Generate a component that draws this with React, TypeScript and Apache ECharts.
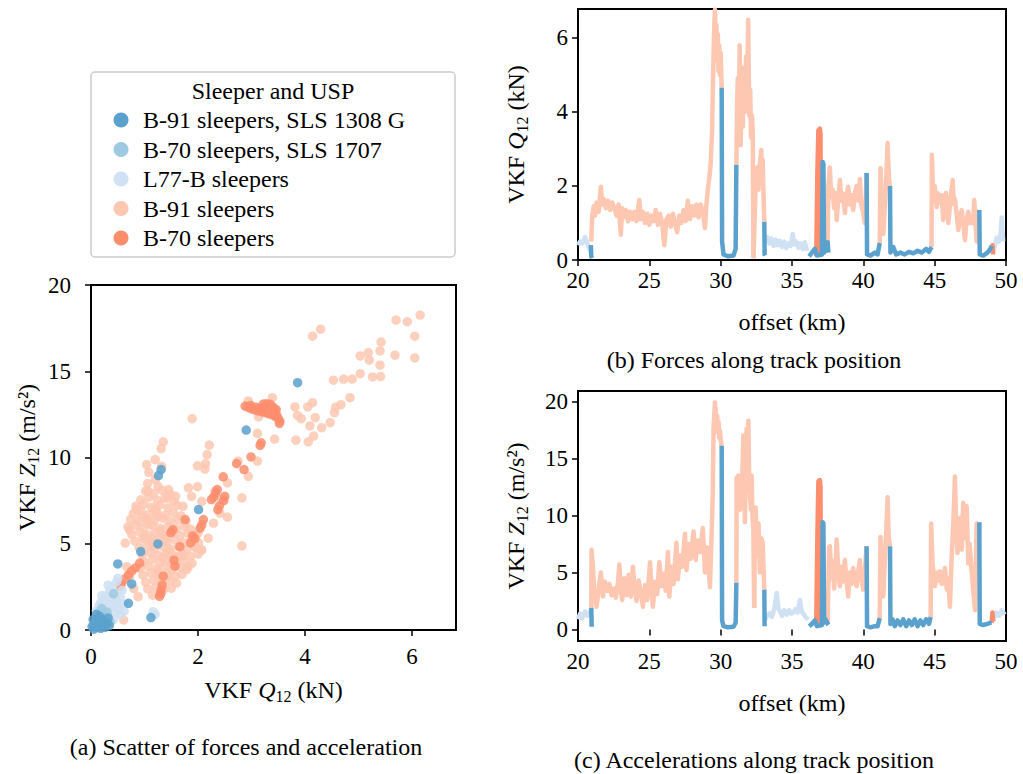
import React, { useEffect, useRef } from "react";
import * as echarts from "echarts";

type P = [number, number];

const FONT = "'Liberation Serif', 'DejaVu Serif', serif";

const C_B91_1308 = "#5aa1ce";
const C_B70_1707 = "#9ecae1";
const C_L77 = "#cfe1f2";
const C_B91 = "#fdc7b2";
const C_B70 = "#fc8d6d";

const LEGEND_TITLE = "Sleeper and USP";
const LEGEND_NAMES = [
  "B-91 sleepers, SLS 1308 G",
  "B-70 sleepers, SLS 1707",
  "L77-B sleepers",
  "B-91 sleepers",
  "B-70 sleepers",
];
const LEGEND_COLORS = [C_B91_1308, C_B70_1707, C_L77, C_B91, C_B70];

const CAPTION_A = "(a) Scatter of forces and acceleration";
const CAPTION_B = "(b) Forces along track position";
const CAPTION_C = "(c) Accelerations along track position";

const A_X_TICKS = [0, 2, 4, 6];
const A_Y_TICKS = [0, 5, 10, 15, 20];
const B_X_TICKS = [20, 25, 30, 35, 40, 45, 50];
const B_Y_TICKS = [0, 2, 4, 6];
const C_Y_TICKS = [0, 5, 10, 15, 20];

// ---------- scatter (a): [Q12 kN, Z12 m/s2] ----------
const SC_B91: P[] = [
  [6.15, 18.26], [5.7, 17.97], [5.91, 17.87], [4.29, 17.44], [4.14, 17.03], [6.05, 17.03], [5.42, 16.69],
  [5.03, 15.89], [5.18, 16.08], [5.4, 16.18], [5.2, 15.65], [5.68, 15.93], [6.05, 15.77], [5.4, 15.35],
  [5.26, 14.67], [5.41, 14.69], [5.03, 14.86], [4.88, 14.55], [4.72, 14.55], [4.53, 14.48], [4.84, 13.47],
  [4.67, 13.06], [4.57, 12.91], [4.55, 12.6], [4.47, 12.02], [4.31, 11.73], [4.16, 11.24], [4.06, 10.91],
  [4.19, 12.31], [4.09, 11.83], [4.05, 12.93], [4.14, 13.18], [3.93, 12.25], [3.86, 12.44], [3.81, 12.93],
  [3.83, 11.01], [3.39, 13.47], [3.43, 11.07], [3.13, 12.36], [3.11, 11.4], [2.94, 13.28], [2.75, 9.79],
  [3.11, 9.79], [2.94, 8.91], [2.82, 7.66], [2.82, 4.88], [2.55, 8.53], [1.89, 12.25], [2.21, 10.72],
  [2.17, 10.17], [2.14, 9.64], [1.99, 9.52], [2.13, 9.33], [1.35, 10.91], [1.31, 10.52], [1.2, 9.88],
  [1.04, 9.59], [1.32, 9.48], [1.08, 9.14], [1.2, 8.72], [1.06, 8.49], [1.07, 8.04], [1.25, 8.33],
  [1.45, 8.14], [1.43, 7.66], [1.58, 7.75], [1.82, 8.24], [1.99, 8.31], [1.88, 7.75], [1.72, 7.17],
  [2.07, 7.46], [2.32, 8.06], [2.44, 7.56], [2.41, 6.78], [2.55, 6.55], [2.29, 6.19], [2.19, 5.32],
  [2.0, 5.62], [1.94, 4.84], [1.82, 3.67], [1.7, 4.26], [2.07, 4.65], [0.85, 6.98], [0.72, 5.81],
  [0.64, 5.04], [0.67, 3.67], [0.61, 0.58], [0.88, 1.94], [0.55, 2.6], [0.72, 3.1], [0.8, 2.4],
  [1.02, 8.05], [1.17, 7.92], [1.33, 8.1], [1.48, 7.88],
  [0.93, 7.55], [1.08, 7.7], [1.24, 7.52], [1.38, 7.65], [1.55, 7.45],
  [0.84, 7.18], [0.99, 7.3], [1.13, 7.12], [1.29, 7.25], [1.44, 7.08], [1.61, 7.22],
  [0.79, 6.75], [0.94, 6.88], [1.09, 6.7], [1.23, 6.84], [1.39, 6.66], [1.54, 6.8], [1.68, 6.62],
  [0.74, 6.42], [0.88, 6.3], [1.03, 6.45], [1.18, 6.32], [1.34, 6.48], [1.49, 6.28], [1.63, 6.4], [1.77, 6.25],
  [0.69, 5.98], [0.84, 6.08], [0.98, 5.92], [1.14, 6.05], [1.29, 5.9], [1.44, 6.02], [1.59, 5.88], [1.74, 6.0], [1.86, 5.85],
  [0.76, 5.55], [0.91, 5.68], [1.06, 5.52], [1.21, 5.64], [1.36, 5.5], [1.51, 5.62], [1.66, 5.48], [1.81, 5.6], [1.95, 5.45],
  [0.82, 5.15], [0.97, 5.28], [1.12, 5.12], [1.27, 5.25], [1.42, 5.1], [1.57, 5.22], [1.72, 5.08], [1.87, 5.2], [2.01, 5.05],
  [0.9, 4.78], [1.05, 4.88], [1.19, 4.72], [1.34, 4.85], [1.49, 4.7], [1.64, 4.82], [1.79, 4.68], [1.94, 4.8], [2.06, 4.62],
  [0.96, 4.35], [1.11, 4.48], [1.26, 4.32], [1.41, 4.45], [1.56, 4.3], [1.71, 4.42], [1.86, 4.28], [2.0, 4.4],
  [0.99, 3.95], [1.14, 4.08], [1.29, 3.92], [1.44, 4.05], [1.59, 3.9], [1.74, 4.02], [1.89, 3.88],
  [0.92, 3.58], [1.07, 3.7], [1.22, 3.55], [1.37, 3.66], [1.52, 3.52], [1.67, 3.64], [1.79, 3.5],
  [0.97, 3.18], [1.12, 3.3], [1.27, 3.15], [1.42, 3.26], [1.57, 3.12], [1.7, 3.22],
  [1.02, 2.78], [1.17, 2.88], [1.32, 2.75], [1.47, 2.85], [1.6, 2.72],
  [1.06, 2.38], [1.21, 2.48], [1.36, 2.35], [1.5, 2.42],
  [1.15, 2.02], [1.3, 2.1],
  [1.1, 6.15], [1.25, 6.6], [1.0, 5.4], [1.3, 5.75], [1.16, 4.95], [1.45, 4.55], [1.35, 4.2], [1.5, 3.8],
  [1.25, 3.4], [1.4, 3.0], [0.95, 6.6], [1.2, 7.0], [1.15, 5.3], [1.6, 4.25], [1.4, 5.3], [1.05, 6.25],
];

const SC_B70: P[] = [
  [2.88, 12.98], [2.94, 12.9], [3.0, 12.82], [3.06, 12.76], [3.13, 12.7], [3.2, 12.65], [3.26, 12.6],
  [3.32, 12.54], [3.38, 12.48], [3.44, 12.38], [3.5, 12.25], [3.53, 12.1], [3.52, 11.98], [3.47, 12.45],
  [3.44, 12.7], [3.4, 12.92], [3.35, 13.08], [3.28, 13.12], [3.22, 13.1], [3.3, 12.88], [3.18, 12.86],
  [3.08, 12.92], [2.98, 13.02], [3.46, 12.78],
  [3.18, 10.85], [3.16, 10.7], [2.99, 10.03], [2.86, 9.3], [2.72, 9.65], [2.47, 8.88], [2.36, 8.14],
  [2.33, 7.95], [2.29, 7.7], [2.25, 7.56], [2.5, 7.75], [2.48, 7.5], [2.4, 7.2], [2.37, 6.98], [2.1, 6.4],
  [2.07, 6.1], [2.04, 5.9], [1.94, 5.3], [1.9, 5.45], [1.86, 5.05], [1.76, 6.4], [1.53, 5.81], [1.49, 5.65],
  [1.66, 4.83], [1.55, 4.05], [1.57, 3.7], [0.91, 3.88], [0.83, 3.6], [0.76, 3.42], [0.7, 3.2], [0.63, 2.95],
  [0.57, 2.7], [0.54, 2.55], [1.35, 3.12], [1.33, 2.6], [1.31, 2.3], [1.3, 2.1], [1.28, 1.95], [0.17, 1.16],
];

const SC_L77: P[] = [
  [0.12, 0.6], [0.2, 0.8], [0.28, 1.0], [0.35, 1.2], [0.42, 1.4], [0.5, 1.6], [0.55, 1.9], [0.45, 2.1],
  [0.38, 1.8], [0.3, 1.5], [0.22, 1.2], [0.15, 0.9], [0.25, 0.5], [0.35, 0.7], [0.45, 1.0], [0.52, 1.2],
  [0.6, 1.5], [0.4, 2.5], [0.48, 2.8], [0.35, 2.3], [0.28, 2.0], [0.18, 1.6], [0.1, 1.1], [0.3, 0.3],
  [0.55, 0.9], [0.62, 1.1], [0.42, 0.6], [0.58, 2.3], [0.5, 3.0], [0.32, 2.6], [0.2, 2.0], [0.15, 1.4],
  [0.08, 0.4], [0.38, 1.5], [0.47, 1.75], [0.25, 1.75], [1.16, 1.07], [1.2, 0.9],
];

const SC_B70_1707: P[] = [
  [0.05, 0.3], [0.1, 0.55], [0.18, 0.35], [0.25, 0.75], [0.3, 1.05], [0.12, 0.95], [0.2, 1.25], [0.36, 0.45], [0.42, 2.1],
];

const SC_B91_1308: P[] = [
  [3.86, 14.34], [2.9, 11.59], [1.31, 9.3], [1.26, 8.95], [2.01, 6.98], [1.25, 4.99], [0.93, 4.55],
  [0.5, 3.83], [0.76, 2.67], [0.7, 1.55], [1.12, 0.72],
  [0.02, 0.2], [0.08, 0.5], [0.14, 0.25], [0.2, 0.6], [0.26, 0.15], [0.1, 0.9], [0.05, 0.05], [0.18, 0.1],
  [0.3, 0.4], [0.12, 0.15], [0.22, 0.35], [0.32, 0.7], [0.04, 0.6], [0.16, 0.8], [0.34, 0.25],
];

// ---------- (b) forces: [offset km, Q12 kN], one list per plotted run ----------
const F_B91: P[][] = [
  [[20.93, 0.5], [21.0, 1.2], [21.1, 1.45], [21.2, 1.2], [21.3, 1.55], [21.45, 1.3], [21.6, 1.98], [21.7, 1.5],
   [21.8, 1.65], [21.95, 1.4], [22.1, 1.6], [22.25, 1.35], [22.4, 1.55], [22.55, 1.4], [22.7, 1.2], [22.85, 1.5],
   [23.0, 0.68], [23.1, 1.4], [23.2, 1.15], [23.35, 1.35], [23.5, 1.05], [23.65, 1.3], [23.8, 1.1], [23.95, 1.3],
   [24.1, 1.05], [24.3, 1.62], [24.4, 1.1], [24.55, 1.3], [24.7, 1.0], [24.85, 1.25], [25.0, 0.95], [25.15, 1.2],
   [25.3, 1.05], [25.45, 1.35], [25.6, 0.95], [25.75, 1.25], [25.9, 1.0], [26.05, 0.4], [26.2, 1.1], [26.35, 1.2],
   [26.5, 0.9], [26.65, 1.25], [26.8, 1.0], [26.95, 0.75], [27.1, 1.2], [27.25, 1.0], [27.4, 1.35], [27.55, 1.05],
   [27.7, 1.6], [27.85, 1.1], [28.0, 1.45], [28.15, 1.2], [28.3, 1.5], [28.45, 1.15], [28.6, 1.5], [28.75, 1.3],
   [28.9, 0.86], [29.0, 1.5], [29.1, 1.9], [29.2, 2.2], [29.3, 2.6], [29.4, 3.5], [29.47, 5.0], [29.55, 6.3],
   [29.6, 6.76], [29.65, 5.9], [29.7, 6.35], [29.75, 5.4], [29.8, 6.1], [29.85, 5.1], [29.9, 5.8], [29.95, 5.0],
   [30.0, 5.6], [30.07, 4.65]],
  [[31.1, 2.57], [31.15, 4.2], [31.2, 4.9], [31.27, 3.7], [31.33, 5.8], [31.4, 3.1], [31.47, 4.6], [31.55, 3.6],
   [31.62, 5.2], [31.7, 4.0], [31.78, 5.5], [31.85, 4.3], [31.93, 6.49], [32.0, 3.9], [32.07, 4.6], [32.13, 3.3],
   [32.2, 3.9], [32.25, 3.4], [32.3, 0.05]],
  [[32.3, 0.05], [32.45, 1.97], [32.55, 2.5], [32.65, 1.9], [32.75, 2.6], [32.85, 2.97], [32.9, 2.2], [32.95, 2.7],
   [33.0, 1.8], [33.06, 1.03]],
  [[37.5, 0.48], [37.55, 2.0], [37.65, 2.5], [37.75, 1.7], [37.85, 1.9], [37.95, 1.4], [38.05, 1.8], [38.13, 1.08],
   [38.25, 1.7], [38.36, 2.16], [38.45, 1.6], [38.55, 1.8], [38.71, 1.27], [38.8, 1.7], [38.94, 1.98], [39.05, 1.5],
   [39.15, 1.75], [39.29, 1.35], [39.4, 1.8], [39.53, 2.0], [39.65, 1.6], [39.76, 2.19], [39.85, 1.5], [39.99, 1.27],
   [40.1, 1.0], [40.23, 2.35]],
  [[41.15, 0.46], [41.2, 2.48], [41.3, 1.5], [41.4, 0.7], [41.5, 1.4], [41.6, 2.2], [41.7, 3.16], [41.8, 2.2],
   [41.87, 1.97]],
  [[44.78, 0.35], [44.8, 2.84], [44.9, 1.7], [45.0, 2.0], [45.14, 1.43], [45.25, 1.8], [45.37, 1.55], [45.5, 1.75],
   [45.6, 1.08], [45.7, 1.5], [45.79, 1.81], [45.9, 1.3], [45.96, 1.0], [46.1, 1.6], [46.26, 2.16], [46.35, 1.5],
   [46.42, 1.65], [46.55, 1.2], [46.66, 0.81], [46.8, 1.2], [46.89, 1.35], [47.0, 1.0], [47.12, 0.54], [47.25, 1.1],
   [47.36, 1.3], [47.5, 1.0], [47.59, 1.15], [47.7, 1.0], [47.77, 1.62], [47.85, 1.1], [47.94, 0.5], [48.05, 1.2],
   [48.13, 1.35]],
];

const F_L77: P[][] = [
  [[20.0, 0.4], [20.15, 0.5], [20.3, 0.45], [20.5, 0.62], [20.65, 0.45], [20.8, 0.3], [20.9, 0.22]],
  [[33.1, 0.5], [33.25, 0.62], [33.4, 0.45], [33.55, 0.58], [33.7, 0.38], [33.85, 0.55], [34.0, 0.4], [34.15, 0.52],
   [34.3, 0.35], [34.45, 0.5], [34.6, 0.32], [34.75, 0.45], [34.9, 0.38], [35.05, 0.7], [35.15, 0.42], [35.3, 0.5],
   [35.45, 0.33], [35.6, 0.45], [35.75, 0.3], [35.9, 0.48], [36.05, 0.25]],
  [[49.05, 0.15], [49.2, 0.35], [49.35, 0.6], [49.5, 0.5], [49.62, 0.7], [49.7, 1.15], [49.8, 0.5]],
];

const F_B70: P[][] = [
  [[36.7, 0.1], [36.78, 2.4], [36.85, 3.5], [36.95, 3.55], [37.0, 3.4], [37.02, 0.1]],
  [[49.0, 0.2], [49.05, 0.4], [49.1, 0.15]],
];

const F_B91_1308: P[][] = [
  [[20.9, 0.4], [20.93, 0.1], [20.98, 0.05]],
  [[30.07, 4.65], [30.1, 0.5], [30.2, 0.15], [30.5, 0.1], [30.9, 0.12], [31.05, 0.3], [31.1, 2.57]],
  [[33.06, 1.03], [33.08, 0.15], [33.12, 0.12]],
  [[36.2, 0.1], [36.4, 0.2], [36.6, 0.3], [36.75, 0.12], [37.1, 0.15], [37.15, 2.65], [37.2, 2.6], [37.25, 0.2],
   [37.35, 0.45], [37.5, 0.48], [37.55, 0.2]],
  [[40.23, 2.35], [40.26, 0.15], [40.5, 0.12], [40.8, 0.2], [41.0, 0.15], [41.15, 0.46]],
  [[41.87, 2.0], [41.9, 0.2], [42.1, 0.35], [42.3, 0.15], [42.6, 0.2], [42.9, 0.15], [43.2, 0.22], [43.5, 0.18],
   [43.8, 0.25], [44.1, 0.2], [44.4, 0.3], [44.6, 0.22], [44.78, 0.35]],
  [[48.13, 1.35], [48.16, 0.15], [48.4, 0.12], [48.7, 0.2], [48.9, 0.3], [49.0, 0.38]],
];

// ---------- (c) accelerations: [offset km, Z12 m/s2] ----------
const A_B91: P[][] = [
  [[20.93, 1.9], [20.95, 7.0], [21.05, 5.5], [21.15, 3.0], [21.3, 2.0], [21.45, 3.5], [21.6, 5.0], [21.75, 2.9],
   [21.9, 4.2], [22.05, 3.4], [22.2, 4.0], [22.35, 3.0], [22.5, 3.6], [22.65, 2.8], [22.8, 4.1], [22.9, 5.7],
   [23.0, 3.4], [23.1, 2.6], [23.25, 4.5], [23.4, 3.0], [23.55, 4.8], [23.7, 2.9], [23.85, 5.5], [23.95, 3.8],
   [24.1, 2.5], [24.25, 4.3], [24.4, 3.2], [24.55, 2.0], [24.7, 3.9], [24.85, 2.6], [25.05, 5.9], [25.15, 3.5],
   [25.25, 2.0], [25.4, 4.2], [25.55, 3.1], [25.7, 5.9], [25.85, 3.8], [26.0, 4.9], [26.15, 3.4], [26.3, 6.8],
   [26.4, 2.9], [26.55, 5.5], [26.7, 4.0], [26.9, 7.6], [27.0, 4.4], [27.15, 6.5], [27.3, 5.5], [27.5, 8.4],
   [27.6, 5.2], [27.75, 7.5], [27.9, 6.2], [28.1, 8.6], [28.25, 6.1], [28.4, 7.8], [28.55, 6.8], [28.75, 8.9],
   [28.9, 5.0], [29.05, 7.2], [29.25, 3.7], [29.35, 7.6], [29.45, 12.0], [29.5, 17.6], [29.6, 19.9], [29.65, 19.2],
   [29.7, 17.3], [29.75, 18.75], [29.8, 17.6], [29.85, 18.2], [29.9, 16.8], [29.95, 17.4], [30.0, 16.6], [30.07, 16.1]],
  [[31.1, 4.1], [31.12, 13.3], [31.18, 12.0], [31.24, 13.5], [31.35, 10.5], [31.47, 11.5], [31.55, 15.0],
   [31.59, 17.0], [31.65, 12.5], [31.7, 9.4], [31.76, 14.0], [31.82, 17.6], [31.9, 14.5], [31.94, 18.3],
   [32.0, 13.0], [32.05, 12.0], [32.12, 10.5], [32.17, 13.5], [32.23, 10.0], [32.29, 8.9], [32.35, 1.9]],
  [[32.35, 1.9], [32.4, 8.3], [32.45, 10.7], [32.55, 6.5], [32.65, 9.3], [32.75, 5.0], [32.85, 8.0], [32.95, 7.6],
   [33.0, 5.5], [33.06, 3.5]],
  [[37.5, 0.5], [37.6, 7.2], [37.66, 7.3], [37.75, 4.5], [37.85, 6.0], [37.95, 3.6], [38.05, 5.5], [38.13, 7.9],
   [38.25, 5.0], [38.36, 3.8], [38.45, 5.5], [38.55, 4.2], [38.71, 6.1], [38.8, 4.5], [38.94, 2.9], [39.05, 5.0],
   [39.15, 4.0], [39.29, 5.4], [39.4, 4.3], [39.53, 3.8], [39.65, 5.2], [39.76, 6.1], [39.85, 4.5], [39.99, 3.5],
   [40.1, 5.0], [40.23, 7.3]],
  [[41.15, 1.0], [41.2, 8.1], [41.3, 5.5], [41.4, 2.9], [41.5, 6.0], [41.6, 8.5], [41.7, 11.6], [41.78, 8.0],
   [41.87, 7.3]],
  [[44.72, 1.1], [44.75, 9.3], [44.85, 5.8], [45.02, 3.8], [45.15, 5.0], [45.25, 4.3], [45.37, 5.1], [45.5, 4.0],
   [45.6, 4.5], [45.72, 5.4], [45.85, 3.5], [45.95, 4.5], [46.07, 2.0], [46.19, 6.4], [46.3, 9.0], [46.42, 13.4],
   [46.52, 8.5], [46.6, 6.7], [46.7, 8.5], [46.8, 9.8], [46.9, 7.0], [47.0, 11.1], [47.1, 8.0], [47.24, 10.8],
   [47.36, 5.8], [47.45, 7.5], [47.59, 5.1], [47.7, 3.5], [47.83, 1.7], [47.94, 9.3], [48.05, 6.0], [48.13, 9.4]],
];

const A_L77: P[][] = [
  [[20.0, 0.9], [20.15, 1.4], [20.3, 1.0], [20.5, 1.6], [20.7, 1.2], [20.85, 1.5], [20.93, 1.9]],
  [[33.1, 0.87], [33.25, 1.2], [33.46, 1.45], [33.6, 1.1], [33.75, 1.8], [33.93, 3.2], [34.05, 1.8], [34.16, 1.6],
   [34.3, 1.2], [34.45, 1.7], [34.63, 1.3], [34.8, 1.7], [34.95, 1.4], [35.1, 1.5], [35.25, 1.8], [35.4, 1.5],
   [35.56, 2.6], [35.68, 1.6], [35.8, 1.4], [35.95, 1.1], [36.14, 0.87]],
  [[49.1, 0.8], [49.3, 1.5], [49.5, 1.2], [49.7, 1.7], [49.9, 1.3]],
];

const A_B70: P[][] = [
  [[36.7, 0.5], [36.78, 8.3], [36.85, 13.0], [36.95, 13.1], [37.0, 12.5], [37.02, 0.5]],
  [[49.0, 0.6], [49.05, 1.5], [49.1, 0.7]],
];

const A_B91_1308: P[][] = [
  [[20.93, 1.9], [20.96, 0.25]],
  [[30.07, 16.1], [30.1, 0.8], [30.2, 0.3], [30.5, 0.2], [30.9, 0.25], [31.05, 0.6], [31.1, 4.1]],
  [[33.06, 3.5], [33.08, 0.3], [33.12, 0.3]],
  [[36.2, 0.3], [36.4, 0.5], [36.6, 0.8], [36.75, 0.3], [37.1, 0.4], [37.15, 9.4], [37.2, 9.3], [37.25, 0.6],
   [37.35, 0.9], [37.5, 0.5], [37.55, 0.4]],
  [[40.23, 7.3], [40.26, 0.3], [40.5, 0.2], [40.8, 0.3], [41.0, 0.3], [41.15, 1.0]],
  [[41.87, 7.3], [41.9, 0.5], [42.05, 0.9], [42.2, 0.3], [42.4, 0.8], [42.6, 0.4], [42.8, 0.9], [43.0, 0.3],
   [43.2, 0.8], [43.4, 0.4], [43.6, 0.9], [43.8, 0.3], [44.0, 0.8], [44.2, 0.4], [44.4, 0.9], [44.6, 0.5], [44.72, 1.1]],
  [[48.13, 9.4], [48.16, 0.5], [48.4, 0.4], [48.7, 0.5], [48.9, 0.6], [49.0, 0.6]],
];

const FS = 24;
const FS_TICK = 23;

const richName = {
  n: { fontFamily: FONT, fontSize: FS, color: "#000", verticalAlign: "middle", lineHeight: 28 },
  i: { fontFamily: FONT, fontSize: FS, fontStyle: "italic", color: "#000", verticalAlign: "middle", lineHeight: 28 },
  s: { fontFamily: FONT, fontSize: 16, color: "#000", verticalAlign: "bottom", lineHeight: 28 },
};

function lineSeries(segs: P[][], color: string, name: string, idx: number) {
  return segs.map((d) => ({
    type: "line",
    name,
    xAxisIndex: idx,
    yAxisIndex: idx,
    data: d,
    showSymbol: false,
    symbol: "none",
    silent: true,
    lineStyle: { color, width: 4.5, cap: "butt", join: "round" },
  }));
}

function scatterSeries(data: P[], color: string, name: string) {
  return {
    type: "scatter",
    name,
    xAxisIndex: 0,
    yAxisIndex: 0,
    data,
    symbolSize: 9.5,
    silent: true,
    itemStyle: { color, opacity: 0.85 },
  };
}

function valueAxis(gridIndex: number, min: number, max: number, ticks: number[], margin: number, name: string, nameGap: number) {
  return {
    type: "value",
    gridIndex,
    min,
    max,
    name,
    nameLocation: "middle",
    nameGap,
    nameTextStyle: { fontFamily: FONT, fontSize: FS, color: "#000", rich: richName },
    axisLine: { show: false },
    splitLine: { show: false },
    axisTick: { show: true, inside: false, length: 6, customValues: ticks, lineStyle: { color: "#000", width: 1.5 } },
    axisLabel: { show: true, customValues: ticks, margin, fontFamily: FONT, fontSize: FS_TICK, color: "#000" },
  };
}

const gridStyle = { show: true, borderColor: "#000", borderWidth: 2, backgroundColor: "transparent" };

export default function App() {
  const ref = useRef<HTMLDivElement>(null);
  useEffect(() => {
    document.body.style.margin = "0";
    if (!ref.current) return;
    const chart = echarts.init(ref.current, undefined, { renderer: "svg" });

    const textStyle = (text: string, align: string) => ({
      text,
      fontFamily: FONT,
      fontSize: FS,
      fill: "#000",
      textAlign: align,
      textVerticalAlign: "middle",
    });

    const legendItems: any[] = [
      {
        type: "rect",
        shape: { x: 91, y: 72, width: 364, height: 185, r: 4 },
        style: { fill: "#fff", stroke: "#cccccc", lineWidth: 1.5 },
        z: 10,
      },
      { type: "text", x: 273, y: 91, z: 11, style: textStyle(LEGEND_TITLE, "center") },
    ];
    LEGEND_NAMES.forEach((nm, k) => {
      const cy = 120 + k * 29.5;
      legendItems.push({ type: "circle", z: 11, shape: { cx: 121, cy, r: 7.5 }, style: { fill: LEGEND_COLORS[k] } });
      legendItems.push({ type: "text", x: 143, y: cy, z: 11, style: textStyle(nm, "left") });
    });
    const captions = [
      { t: CAPTION_A, x: 246, y: 747 },
      { t: CAPTION_B, x: 754, y: 360 },
      { t: CAPTION_C, x: 754, y: 760 },
    ].map((c) => ({ type: "text", x: c.x, y: c.y, style: textStyle(c.t, "center") }));

    const option: any = {
      animation: false,
      backgroundColor: "#fff",
      textStyle: { fontFamily: FONT },
      grid: [
        { left: 91, top: 285, width: 365, height: 345, ...gridStyle },
        { left: 578, top: 9, width: 428, height: 251, ...gridStyle },
        { left: 578, top: 391, width: 428, height: 250, ...gridStyle },
      ],
      xAxis: [
        valueAxis(0, 0, 6.82, A_X_TICKS, 15, "{n|VKF }{i|Q}{s|12}{n| (kN)}", 46),
        valueAxis(1, 20, 50, B_X_TICKS, 9, "{n|offset (km)}", 48),
        valueAxis(2, 20, 50, B_X_TICKS, 9, "{n|offset (km)}", 48),
      ],
      yAxis: [
        valueAxis(0, 0, 20, A_Y_TICKS, 20, "{n|VKF }{i|Z}{s|12}{n| (m/s²)}", 50),
        valueAxis(1, 0, 6.78, B_Y_TICKS, 10, "{n|VKF }{i|Q}{s|12}{n| (kN)}", 48),
        valueAxis(2, -1, 20.9, C_Y_TICKS, 10, "{n|VKF }{i|Z}{s|12}{n| (m/s²)}", 48),
      ],
      series: [
        scatterSeries(SC_B91, C_B91, LEGEND_NAMES[3]),
        scatterSeries(SC_B70, C_B70, LEGEND_NAMES[4]),
        scatterSeries(SC_L77, C_L77, LEGEND_NAMES[2]),
        scatterSeries(SC_B70_1707, C_B70_1707, LEGEND_NAMES[1]),
        scatterSeries(SC_B91_1308, C_B91_1308, LEGEND_NAMES[0]),
        ...lineSeries(F_B91, C_B91, LEGEND_NAMES[3], 1),
        ...lineSeries(F_L77, C_L77, LEGEND_NAMES[2], 1),
        ...lineSeries(F_B70, C_B70, LEGEND_NAMES[4], 1),
        ...lineSeries(F_B91_1308, C_B91_1308, LEGEND_NAMES[0], 1),
        ...lineSeries(A_B91, C_B91, LEGEND_NAMES[3], 2),
        ...lineSeries(A_L77, C_L77, LEGEND_NAMES[2], 2),
        ...lineSeries(A_B70, C_B70, LEGEND_NAMES[4], 2),
        ...lineSeries(A_B91_1308, C_B91_1308, LEGEND_NAMES[0], 2),
      ],
      graphic: [...legendItems, ...captions],
    };
    chart.setOption(option);
    return () => chart.dispose();
  }, []);
  return <div ref={ref} style={{ width: 1023, height: 774 }} />;
}
